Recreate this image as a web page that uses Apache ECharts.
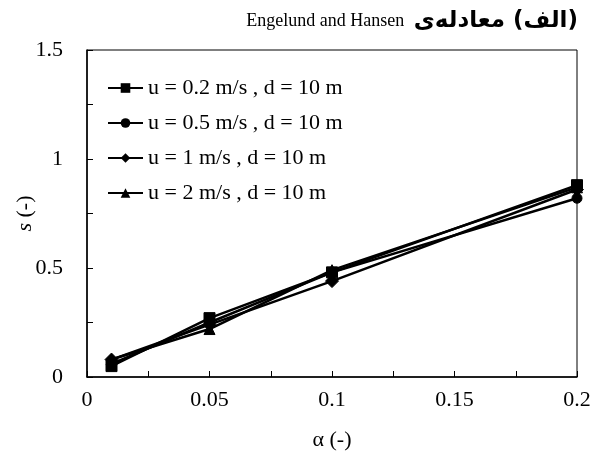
<!DOCTYPE html>
<html>
<head>
<meta charset="utf-8">
<script src="https://cdn.jsdelivr.net/npm/echarts@6/dist/echarts.min.js"></script>
<style>
  html, body { margin: 0; padding: 0; background: #fff; }
  #chart { width: 595px; height: 464px; }
</style>
</head>
<body>
<div id="chart"></div>
<script>
// α values and s for each flow velocity (d = 10 m)
const alphaValues = [0.01, 0.05, 0.1, 0.2];
const sU02 = [0.05, 0.27, 0.48, 0.88];
const sU05 = [0.06, 0.25, 0.48, 0.82];
const sU1  = [0.08, 0.24, 0.44, 0.86];
const sU2  = [0.08, 0.22, 0.49, 0.87];

const seriesNames = [
  'u = 0.2 m/s , d = 10 m',
  'u = 0.5 m/s , d = 10 m',
  'u = 1 m/s , d = 10 m',
  'u = 2 m/s , d = 10 m'
];
const seriesValues = [sU02, sU05, sU1, sU2];
const symbols = ['rect', 'circle', 'diamond', 'triangle'];
const symbolSizes = [11, 10, 13, 11];

const serif = '"Liberation Serif", "Times New Roman", serif';

const chart = echarts.init(document.getElementById('chart'), null, { renderer: 'canvas' });

function pairs(xs, ys) {
  return xs.map((x, i) => [x, ys[i]]);
}

chart.setOption({
  animation: false,
  backgroundColor: '#fff',
  title: {
    text: 'Engelund and Hansen {ar|\u2067(الف) معادله‌ی\u2069}',
    right: 12,
    top: 5,
    textStyle: {
      fontFamily: serif, fontSize: 18, fontWeight: 'normal', color: '#000',
      rich: {
        ar: { fontFamily: '"DejaVu Sans", "Noto Sans", sans-serif', fontSize: 23, fontWeight: 'bold', color: '#000', padding: [0, 0, 0, 5] }
      }
    }
  },
  legend: {
    orient: 'vertical',
    left: 102,
    top: 72,
    itemWidth: 35,
    itemHeight: 12,
    itemGap: 13,
    textStyle: { fontFamily: serif, fontSize: 22, color: '#000' },
    data: seriesNames
  },
  grid: {
    left: 87, right: 18, top: 50, bottom: 87,
    outerBoundsMode: 'none',
    containLabel: false,
    show: true, borderColor: '#000', borderWidth: 1, backgroundColor: 'transparent'
  },
  xAxis: {
    type: 'value',
    min: 0, max: 0.2, interval: 0.025,
    name: 'α (-)',
    nameLocation: 'middle',
    nameGap: 52,
    nameMoveOverlap: false,
    nameTextStyle: { fontFamily: serif, fontSize: 22, color: '#000' },
    axisLine: { lineStyle: { color: '#000', width: 1.5 } },
    axisTick: { inside: true, length: 6, lineStyle: { color: '#000' } },
    splitLine: { show: false },
    axisLabel: {
      fontFamily: serif, fontSize: 22, color: '#000', margin: 12,
      formatter: v => {
        const k = Math.round(v / 0.025);
        return k % 2 === 0 ? String(parseFloat(v.toFixed(3))) : '';
      }
    }
  },
  yAxis: {
    type: 'value',
    min: 0, max: 1.5, interval: 0.25,
    name: '{i|s} (-)',
    nameLocation: 'middle',
    nameGap: 51,
    nameMoveOverlap: false,
    nameRotate: 90,
    nameTextStyle: {
      fontFamily: serif, fontSize: 22, color: '#000',
      rich: { i: { fontFamily: serif, fontSize: 22, fontStyle: 'italic', color: '#000' } }
    },
    axisLine: { show: true, lineStyle: { color: '#000', width: 1.5 } },
    axisTick: { show: true, inside: true, length: 6, lineStyle: { color: '#000' } },
    splitLine: { show: false },
    axisLabel: {
      fontFamily: serif, fontSize: 22, color: '#000', margin: 24,
      formatter: v => {
        const k = Math.round(v / 0.25);
        return k % 2 === 0 ? String(parseFloat(v.toFixed(2))) : '';
      }
    }
  },
  series: seriesNames.map((name, i) => ({
    name,
    type: 'line',
    data: pairs(alphaValues, seriesValues[i]),
    symbol: symbols[i],
    symbolSize: symbolSizes[i],
    showAllSymbol: true,
    lineStyle: { color: '#000', width: 2.5 },
    itemStyle: { color: '#000', borderColor: '#000' },
    emphasis: { disabled: true }
  }))
});
</script>
</body>
</html>
